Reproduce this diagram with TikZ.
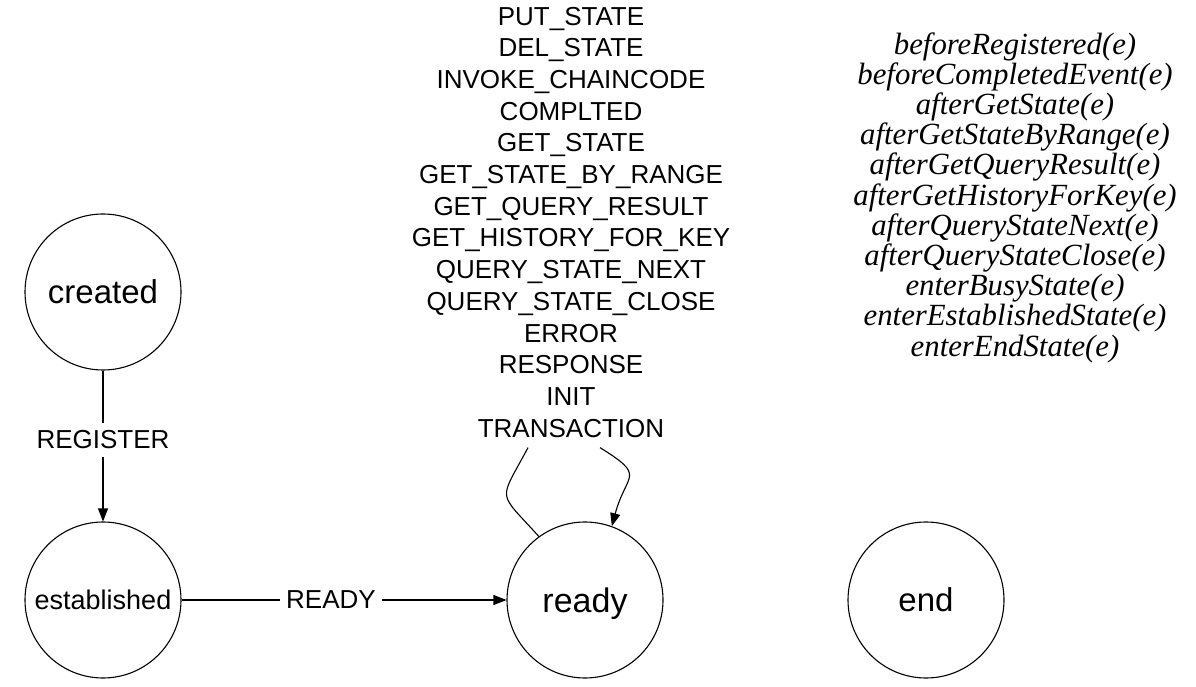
\documentclass[tikz,border=0pt]{standalone}
\usepackage{fontspec}
\setmainfont{Liberation Sans}
\newfontfamily\hookfont{Liberation Serif}
\usepackage{tikz}
\usetikzlibrary{arrows.meta}

\tikzset{
  state/.style={draw, circle, line width=1.1pt, minimum size=156pt, inner sep=0pt, text depth=0pt},
  trans/.style={-{Triangle[length=13pt,width=10pt]}, line width=1.1pt},
  translabel/.style={fill=white, inner xsep=6pt, inner ysep=8pt, font=\fontsize{26}{30}\selectfont},
}

\begin{document}
\begin{tikzpicture}[x=1pt,y=1pt]
\useasboundingbox (0,0) rectangle (1196,686);

% ============= states =============
\node[state, font=\fontsize{33}{36}\selectfont] (created) at (103,394) {created};
\node[state, font=\fontsize{27}{30}\selectfont] (established) at (103,86) {established};
\node[state, font=\fontsize{34}{36}\selectfont] (ready) at (585,86) {ready};
\node[state, font=\fontsize{33}{36}\selectfont] (end) at (926,86) {end};

% ============= message types (self-loop on ready) =============
\node[anchor=north, align=center, inner sep=0pt, font=\fontsize{26}{31.7}\selectfont]
  (events) at (571,679.3)
  {PUT\_STATE\\DEL\_STATE\\INVOKE\_CHAINCODE\\COMPLTED\\GET\_STATE\\
   GET\_STATE\_BY\_RANGE\\GET\_QUERY\_RESULT\\GET\_HISTORY\_FOR\_KEY\\
   QUERY\_STATE\_NEXT\\QUERY\_STATE\_CLOSE\\ERROR\\RESPONSE\\INIT\\TRANSACTION};

% ============= callbacks =============
\node[anchor=north, align=center, inner sep=0pt, font=\hookfont\itshape\fontsize{30.8}{30.2}\selectfont]
  (hooks) at (1015,653.7)
  {beforeRegistered(e)\\beforeCompletedEvent(e)\\afterGetState(e)\\
   afterGetStateByRange(e)\\afterGetQueryResult(e)\\afterGetHistoryForKey(e)\\
   afterQueryStateNext(e)\\afterQueryStateClose(e)\\enterBusyState(e)\\
   enterEstablishedState(e)\\enterEndState(e)};

% ============= transitions =============
\draw[trans] (created) -- node[translabel, pos=0.46] {REGISTER} (established);
\draw[trans] (established) -- node[translabel, pos=0.46] {READY} (ready);

\draw[line width=1.1pt] (ready.126) to[out=132, in=-118, looseness=1.8] ([xshift=-43pt, yshift=-10pt]events.south);
\draw[trans] ([xshift=29pt, yshift=-10pt]events.south) to[out=-32, in=75, looseness=1.8] (ready.70);
\end{tikzpicture}
\end{document}
